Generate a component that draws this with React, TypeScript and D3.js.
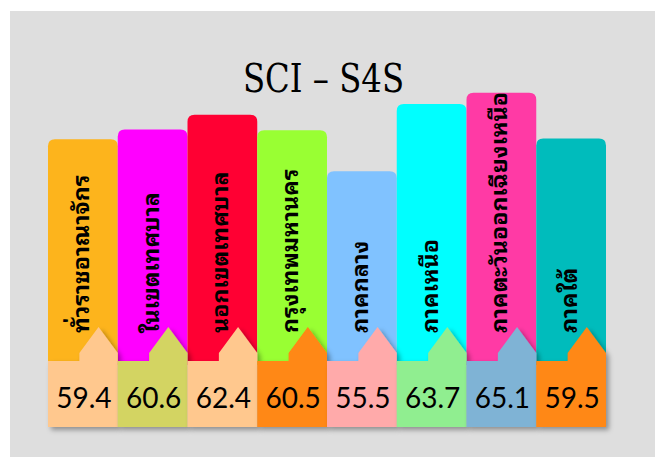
import React from "react";
import * as d3 from "d3";

const title = "SCI – S4S";
const categories = [
  "ทั่วราชอาณาจักร",
  "ในเขตเทศบาล",
  "นอกเขตเทศบาล",
  "กรุงเทพมหานคร",
  "ภาคกลาง",
  "ภาคเหนือ",
  "ภาคตะวันออกเฉียงเหนือ",
  "ภาคใต้",
];
const values = [59.4, 60.6, 62.4, 60.5, 55.5, 63.7, 65.1, 59.5];
const barColors = ["#FDB41C", "#FF00FF", "#FF0033", "#99FF33", "#80C2FF", "#00FFFF", "#FF3AA5", "#00BCBC"];
const boxColors = ["#FFC88E", "#D3D462", "#FFC88E", "#FF8812", "#FFAAAA", "#90EE90", "#7FB3D5", "#FF8812"];

const W = 655;
const H = 457;

export default function App() {
  const x = d3.scaleBand<string>().domain(categories).range([48, 606]).paddingInner(0);
  const y = d3.scaleLinear().domain([55, 66]).range([175.3, 85.3]);
  const boxTop = 361;
  const boxBottom = 427;
  const shoulder = 353;
  const peak = 327;
  const r = 7;

  const barPath = (x0: number, w: number, top: number) => {
    const p = d3.path();
    const bottom = boxTop + 4;
    p.moveTo(x0, bottom);
    p.lineTo(x0, top + r);
    p.quadraticCurveTo(x0, top, x0 + r, top);
    p.lineTo(x0 + w - r, top);
    p.quadraticCurveTo(x0 + w, top, x0 + w, top + r);
    p.lineTo(x0 + w, bottom);
    p.closePath();
    return p.toString();
  };

  const boxPath = (x0: number, w: number) => {
    const p = d3.path();
    const wall = x0 + 0.45 * w;
    const apex = x0 + 0.725 * w;
    p.moveTo(x0, boxTop);
    p.lineTo(wall, boxTop);
    p.lineTo(wall, shoulder);
    p.lineTo(apex, peak);
    p.lineTo(x0 + w, shoulder);
    p.lineTo(x0 + w, boxBottom);
    p.lineTo(x0, boxBottom);
    p.closePath();
    return p.toString();
  };

  return (
    <svg width={W} height={H} style={{ position: "absolute", left: 0, top: 0 }}>
      <defs>
        <filter id="sh" x="-20%" y="-20%" width="150%" height="150%">
          <feDropShadow dx="3" dy="3" stdDeviation="2.5" floodColor="#000" floodOpacity="0.35" />
        </filter>
      </defs>
      <rect x={10} y={11} width={W - 10} height={H - 11} fill="#DEDEDE" />
      <text
        x={323.5}
        y={92}
        textAnchor="middle"
        fontFamily="'DejaVu Serif Condensed', 'DejaVu Serif', serif"
        fontStretch="condensed"
        fontSize={39}
        textLength={161}
        lengthAdjust="spacingAndGlyphs"
        fill="#000"
      >
        {title}
      </text>
      {categories.map((c, i) => (
        <path key={"b" + i} d={barPath(x(c)!, x.bandwidth(), y(values[i]))} fill={barColors[i]} />
      ))}
      {categories.map((c, i) => (
        <text
          key={"t" + i}
          transform={`translate(${x(c)! + x.bandwidth() / 2 + 6}, 333) rotate(-90)`}
          fontFamily="'Noto Sans Thai Looped', 'Noto Sans Thai', Tahoma, sans-serif"
          fontWeight="bold"
          fontSize={23.2}
          fill="#000"
        >
          {c}
        </text>
      ))}
      {categories.map((c, i) => (
        <path key={"x" + i} d={boxPath(x(c)!, x.bandwidth())} fill={boxColors[i]} filter="url(#sh)" />
      ))}
      {categories.map((c, i) => (
        <text
          key={"v" + i}
          x={x(c)! + x.bandwidth() / 2 + 1}
          y={408}
          textAnchor="middle"
          fontFamily="Lato, 'Open Sans', sans-serif"
          fontSize={28}
          fill="#000"
        >
          {values[i].toFixed(1)}
        </text>
      ))}
    </svg>
  );
}
